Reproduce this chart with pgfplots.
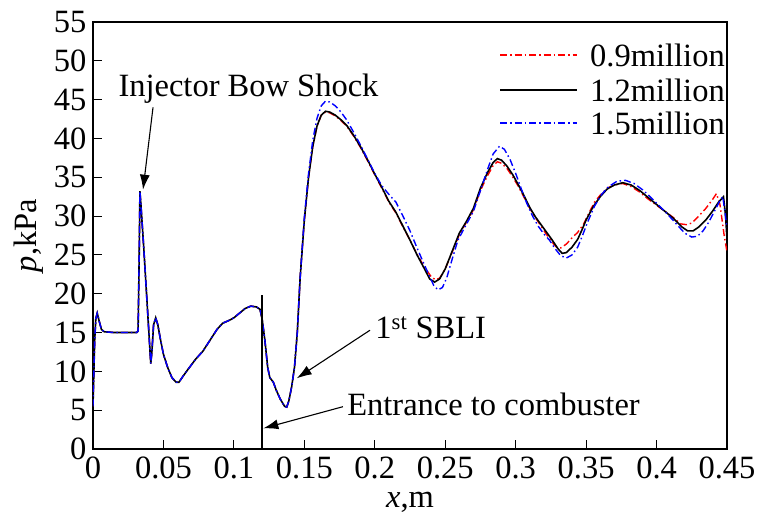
\documentclass[border=0pt]{standalone}
\usepackage{fontspec}
\setmainfont{Liberation Serif}
\usepackage{pgfplots}
\usepackage{pgfplotstable}
\pgfplotsset{compat=1.18}
\usetikzlibrary{arrows.meta}
\newcommand{\bigf}{\fontsize{32.5}{38}\selectfont}

\pgfplotstableread{
x y
0.000 5.5
0.0012 14.0
0.002 16.8
0.003 17.5
0.0045 16.4
0.006 15.4
0.008 15.1
0.015 15.0
0.025 15.0
0.031 15.0
0.032 15.2
0.0328 25
0.0333 33.2
0.034 31.5
0.036 26
0.038 20
0.040 14
0.041 11.0
0.0418 12.5
0.043 16.0
0.0445 16.9
0.046 16.0
0.048 14.0
0.050 12.2
0.053 10.5
0.056 9.2
0.059 8.6
0.061 8.6
0.064 9.4
0.068 10.4
0.073 11.6
0.078 12.6
0.083 14.0
0.088 15.4
0.092 16.2
0.097 16.6
0.100 16.9
0.104 17.5
0.108 18.1
0.112 18.4
0.116 18.3
0.1185 18.0
0.120 16.8
0.122 14.0
0.124 10.5
0.1255 9.2
0.128 8.6
0.130 7.6
0.133 6.4
0.136 5.5
0.1375 5.4
0.139 6.2
0.141 8.0
0.143 10.5
0.145 15
0.147 22
0.150 29.5
0.153 35.0
0.156 39.0
0.159 41.6
0.162 43.0
0.165 43.4
0.168 43.3
0.172 42.9
0.176 42.3
0.180 41.6
0.185 40.3
0.190 38.8
0.195 37.1
0.200 35.3
0.205 33.6
0.210 31.8
0.215 30.4
0.220 28.6
0.225 26.9
0.230 25.1
0.235 23.5
0.240 22.2
0.243 21.8
0.246 22.0
0.250 23.2
0.255 25.4
0.260 27.6
0.265 29.2
0.270 30.8
0.275 33.3
0.280 35.2
0.284 36.5
0.287 37.0
0.290 36.8
0.294 36.1
0.298 35.0
0.302 33.8
0.306 32.4
0.310 31.0
0.314 29.8
0.318 28.7
0.322 27.6
0.326 26.6
0.329 26.0
0.332 25.9
0.336 26.4
0.340 27.2
0.344 27.9
0.348 28.9
0.352 30.4
0.356 31.8
0.360 32.7
0.365 33.6
0.370 34.0
0.376 34.2
0.382 33.8
0.388 33.1
0.394 32.2
0.400 31.4
0.406 30.6
0.412 29.8
0.417 29.0
0.421 28.9
0.425 29.1
0.430 30.0
0.435 31.0
0.440 32.2
0.4425 32.9
0.445 31.5
0.448 27.5
0.450 25.4
}\redtab

\pgfplotstableread{
x y
0.000 5.5
0.0012 14.0
0.002 16.8
0.003 17.5
0.0045 16.4
0.006 15.4
0.008 15.1
0.015 15.0
0.025 15.0
0.031 15.0
0.032 15.2
0.0328 25
0.0333 33.2
0.034 31.5
0.036 26
0.038 20
0.040 14
0.041 11.0
0.0418 12.5
0.043 16.0
0.0445 16.9
0.046 16.0
0.048 14.0
0.050 12.2
0.053 10.5
0.056 9.2
0.059 8.6
0.061 8.6
0.064 9.4
0.068 10.4
0.073 11.6
0.078 12.6
0.083 14.0
0.088 15.4
0.092 16.2
0.097 16.6
0.100 16.9
0.104 17.5
0.108 18.1
0.112 18.4
0.116 18.3
0.1185 18.0
0.120 16.8
0.122 14.0
0.124 10.5
0.1255 9.2
0.128 8.6
0.130 7.6
0.133 6.4
0.136 5.5
0.1375 5.4
0.139 6.2
0.141 8.0
0.143 10.5
0.145 15
0.147 22
0.150 29.5
0.153 35.0
0.156 39.0
0.159 41.6
0.162 43.0
0.165 43.5
0.168 43.4
0.172 43.0
0.176 42.4
0.180 41.7
0.185 40.4
0.190 38.9
0.195 37.2
0.200 35.4
0.205 33.7
0.210 31.9
0.215 30.5
0.220 28.7
0.225 26.9
0.230 25.0
0.235 23.3
0.239 21.9
0.2425 21.5
0.246 21.9
0.250 23.2
0.255 25.5
0.260 27.8
0.265 29.3
0.270 31.0
0.275 33.6
0.280 35.6
0.284 36.9
0.287 37.4
0.290 37.2
0.294 36.4
0.298 35.3
0.302 34.0
0.306 32.6
0.310 31.1
0.314 29.9
0.318 28.9
0.322 27.9
0.326 26.9
0.330 25.8
0.333 25.2
0.336 25.3
0.340 26.0
0.344 27.0
0.347 28.2
0.350 29.5
0.355 31.2
0.360 32.5
0.365 33.5
0.370 34.0
0.376 34.3
0.382 34.0
0.388 33.3
0.394 32.4
0.400 31.5
0.406 30.6
0.412 29.7
0.418 28.6
0.422 28.1
0.426 28.1
0.430 28.6
0.435 29.5
0.440 30.7
0.444 31.8
0.4475 32.5
0.449 30.0
0.450 27.0
}\blacktab

\pgfplotstableread{
x y
0.000 5.5
0.0012 14.0
0.002 16.8
0.003 17.5
0.0045 16.4
0.006 15.4
0.008 15.1
0.015 15.0
0.025 15.0
0.031 15.0
0.032 15.2
0.0328 25
0.0333 33.2
0.034 31.5
0.036 26
0.038 20
0.040 14
0.041 11.0
0.0418 12.5
0.043 16.0
0.0445 16.9
0.046 16.0
0.048 14.0
0.050 12.2
0.053 10.5
0.056 9.2
0.059 8.6
0.061 8.6
0.064 9.4
0.068 10.4
0.073 11.6
0.078 12.6
0.083 14.0
0.088 15.4
0.092 16.2
0.097 16.6
0.100 16.9
0.104 17.5
0.108 18.1
0.112 18.4
0.116 18.3
0.1185 18.0
0.120 16.8
0.122 14.0
0.124 10.5
0.1255 9.2
0.128 8.6
0.130 7.6
0.133 6.4
0.136 5.5
0.1375 5.4
0.139 6.2
0.141 8.0
0.143 10.5
0.145 15
0.147 22
0.150 29.8
0.153 35.5
0.156 39.8
0.159 42.6
0.162 44.2
0.165 44.8
0.168 44.7
0.172 44.2
0.176 43.4
0.180 42.4
0.185 40.8
0.190 39.1
0.195 37.3
0.200 35.5
0.205 33.9
0.210 32.8
0.215 31.8
0.220 30.0
0.225 28.1
0.230 25.9
0.235 23.8
0.239 22.2
0.242 21.0
0.245 20.5
0.248 20.8
0.251 22.0
0.255 24.5
0.259 26.9
0.264 28.6
0.270 30.6
0.275 33.3
0.280 36.0
0.284 38.0
0.2885 39.0
0.292 38.6
0.296 37.3
0.300 35.5
0.304 33.5
0.308 31.6
0.312 30.0
0.316 28.7
0.320 27.7
0.324 26.9
0.328 25.8
0.332 24.9
0.336 24.6
0.340 25.0
0.344 26.0
0.347 27.3
0.351 29.2
0.356 31.3
0.361 32.8
0.366 33.8
0.372 34.5
0.378 34.6
0.384 34.2
0.390 33.4
0.396 32.4
0.402 31.3
0.408 30.2
0.414 29.0
0.420 27.8
0.425 27.3
0.429 27.4
0.433 28.1
0.437 29.2
0.441 30.6
0.445 32.0
0.447 32.5
0.4485 30.5
0.450 28.5
}\bluetab

\begin{document}
\begin{tikzpicture}
\begin{axis}[
  scale only axis,
  width=634pt, height=427pt,
  xmin=0, xmax=0.45, ymin=0, ymax=55,
  xtick={0,0.05,...,0.45},
  ytick={0,5,...,55},
  xticklabels={0,0.05,0.1,0.15,0.2,0.25,0.3,0.35,0.4,0.45},
  tick align=inside,
  xtick pos=bottom, ytick pos=left,
  major tick length=9pt,
  axis line style={line width=1.2pt},
  tick style={line width=1.1pt, black},
  /pgf/number format/assume math mode=true,
  tick label style={font=\bigf},
  xticklabel style={yshift=-4pt},
  yticklabel style={xshift=-3pt},
  label style={font=\bigf},
  xlabel={\textit{x},m},
  ylabel={\textit{p},kPa},
  xlabel style={yshift=-7pt},
  ylabel style={yshift=4pt},
]
\addplot[red, line width=1.4pt, dash pattern=on 7pt off 3pt on 1.5pt off 3pt] table[x=x,y=y] {\redtab};
\addplot[black, line width=1.6pt] table[x=x,y=y] {\blacktab};
\addplot[blue, line width=1.4pt, dash pattern=on 7pt off 3pt on 1.5pt off 3pt] table[x=x,y=y] {\bluetab};
\addplot[black, line width=1.2pt] coordinates {(0.12,0) (0.12,19.8)};

% legend (drawn in axis-relative coordinates)
\draw[red, line width=1.4pt, dash pattern=on 7pt off 3pt on 1.5pt off 3pt] (rel axis cs:0.642,0.9227) -- (rel axis cs:0.7634,0.9227);
\node[font=\bigf, anchor=west, inner sep=0pt] at (rel axis cs:0.7839,0.9227) {0.9million};
\draw[black, line width=1.6pt] (rel axis cs:0.642,0.8407) -- (rel axis cs:0.7634,0.8407);
\node[font=\bigf, anchor=west, inner sep=0pt] at (rel axis cs:0.7839,0.8407) {1.2million};
\draw[blue, line width=1.4pt, dash pattern=on 7pt off 3pt on 1.5pt off 3pt] (rel axis cs:0.642,0.7635) -- (rel axis cs:0.7634,0.7635);
\node[font=\bigf, anchor=west, inner sep=0pt] at (rel axis cs:0.7839,0.7635) {1.5million};

\node[font=\bigf, anchor=west] at (axis cs:0.0156,46.4) {Injector Bow Shock};
\draw[line width=1.1pt, -{Latex[length=15pt,width=10pt]}] (axis cs:0.0426,44.0) -- (axis cs:0.0355,33.4);
\node[font=\bigf, anchor=west] at (axis cs:0.198,15.6) {1\textsuperscript{st} SBLI};
\draw[line width=1.1pt, -{Latex[length=15pt,width=10pt]}] (axis cs:0.1966,15.3) -- (axis cs:0.1446,9.1);
\node[font=\bigf, anchor=west] at (axis cs:0.178,5.7) {Entrance to combuster};
\draw[line width=1.1pt, -{Latex[length=15pt,width=10pt]}] (axis cs:0.1774,5.45) -- (axis cs:0.1209,2.66);

\coordinate (SW) at (rel axis cs:0,0);
\coordinate (NE) at (rel axis cs:1,1);
\end{axis}
\pgfresetboundingbox
\path[use as bounding box] ([shift={(-93pt,-69pt)}]SW) rectangle ([shift={(33pt,22pt)}]NE);
\end{tikzpicture}
\end{document}
